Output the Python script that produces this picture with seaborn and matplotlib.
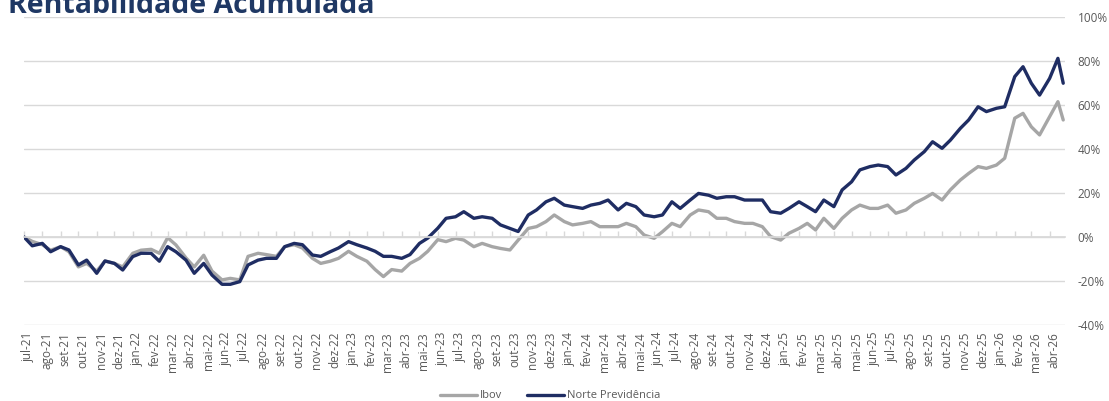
import numpy as np
import pandas as pd
import matplotlib
matplotlib.use("Agg")
import matplotlib.pyplot as plt
import matplotlib.transforms as mtransforms
import seaborn as sns

# ---- data (cumulative return, %), semi-monthly samples ----
start_date = "2021-07-01"
last_regular = "2026-04-15"
final_date = "2026-04-24"

norte = [
    0, -4, -2.9, -6.7, -4.4, -5.9, -12.7, -10.5, -16.5, -10.9, -12, -15, -8.9, -7.4, -7.4, -11,
    -4.4, -6.7, -10.5, -16.5, -12, -17.3, -21.5,
    -21.5, -20.3, -12.7, -10.5, -9.7, -9.7, -4.4, -2.9, -3.5, -8.2, -8.8, -6.7, -5, -2.1, -3.5, -5,
    -6.5, -8.8, -8.8, -9.7, -8, -2.9, -0.5, 4,
    8.5, 9.2, 11.5, 8.5, 9.2, 8.5, 5.5, 3.9, 2.5, 10, 12.3, 16, 17.6, 14.5, 13.8, 13, 14.5, 15.3,
    16.8, 12.3, 15.3, 13.8, 10,
    9.2, 10, 16, 13, 16.8, 19.8, 19, 17.6, 18.3, 18.3, 16.8, 16.8, 16.8, 11.5, 10.8, 13, 16, 13.8,
    11.5, 16.8, 13.8, 21.4, 25.1,
    30.5, 32, 32.7, 32, 28.2, 31.2, 35, 38.8, 43.3, 40.3, 44, 49.4, 53.2, 59.2, 57, 58.5, 59.2, 72.9,
    77.4, 69.9, 64.5, 72.1, 81.2, 69.9,
]
ibov = [
    0, -2, -3.5, -6, -4.4, -6.7, -13.6, -12, -15.5, -10.9, -12, -13.6, -7.4, -6, -5.6, -7.4,
    -0.3, -3.6, -9.5, -13.6, -8.3, -15.5, -19.5,
    -18.8, -19.5, -8.8, -7.4, -8, -8.8, -4.4, -3.5, -5, -9.7, -12, -11, -9.7, -6.5, -8.8, -11,
    -14.8, -18, -14.8, -15.5, -12, -9.7, -6.5, -1.2,
    -2.1, -0.6, -1.4, -4.4, -2.9, -4.4, -5.2, -5.9, -1.4, 3.9, 4.7, 7, 10, 7, 5.5, 6.2, 7, 4.7,
    4.7, 4.7, 6.2, 4.7, 0.9,
    -0.6, 2.4, 6.2, 4.7, 10, 12.3, 11.5, 8.5, 8.5, 7, 6.2, 6.2, 4.7, 0.2, -1.4, 1.7, 3.9, 6.2,
    3.2, 8.5, 3.9, 8.5, 12.3,
    14.5, 13, 13, 14.5, 10.8, 12.3, 15.3, 17.6, 19.8, 16.8, 21.4, 25.9, 28.9, 32, 31.2, 32.7, 35.8,
    54, 56.2, 50.1, 46.4, 54.7, 61.5, 53.2,
]
series_names = ["Ibov", "Norte Previdência"]
month_abbr = ["jan", "fev", "mar", "abr", "mai", "jun", "jul", "ago", "set", "out", "nov", "dez"]
yticks = [-40, -20, 0, 20, 40, 60, 80, 100]
title = "Rentabilidade Acumulada"

dates = list(pd.date_range(start_date, last_regular, freq="SMS")) + [pd.Timestamp(final_date)]
df = pd.DataFrame({
    "date": dates * 2,
    "value": ibov + norte,
    "serie": [series_names[0]] * len(ibov) + [series_names[1]] * len(norte),
})

# ---- style ----
sns.set_theme(style="white")
plt.rcParams["font.family"] = ["Open Sans", "DejaVu Sans"]
label_color = "#595959"
grid_color = "#D9D9D9"
colors = {"Ibov": "#A6A6A6", "Norte Previdência": "#1F2D63"}

fig = plt.figure(figsize=(11.09, 4.01), dpi=100)
ax = fig.add_axes([24 / 1109, 1 - 325 / 401, (1065 - 24) / 1109, (325 - 17) / 401])

sns.lineplot(data=df, x="date", y="value", hue="serie", palette=colors,
             hue_order=series_names, linewidth=2.4, ax=ax, legend=True, estimator=None)

ax.set_ylim(-40, 100)
ax.set_xlim(pd.Timestamp(start_date), pd.Timestamp("2026-04-27"))
ax.set_yticks(yticks)
ax.yaxis.tick_right()
ax.set_yticklabels([f"{v}%" for v in yticks], color=label_color, fontsize=8.5)
ax.tick_params(axis="y", length=0, pad=9)
ax.grid(axis="y", color=grid_color, linewidth=1)
ax.set_axisbelow(True)
for s in ax.spines.values():
    s.set_visible(False)

# month positions
month_starts = pd.date_range(start_date, "2026-04-01", freq="MS")
month_labels = [f"{month_abbr[d.month - 1]}-{d.year % 100:02d}" for d in month_starts]

# axis line with tick marks at 0
ax.spines["bottom"].set_visible(True)
ax.spines["bottom"].set_position(("data", 0))
ax.spines["bottom"].set_color(grid_color)
ax.set_xticks(month_starts)
ax.set_xticklabels([])
ax.tick_params(axis="x", direction="in", length=4, color=grid_color, width=1, bottom=True)

sec = ax.secondary_xaxis(0.0)
sec.set_xticks(month_starts)
sec.set_xticklabels(month_labels, rotation=90, color=label_color, fontsize=8.5)
sec.tick_params(axis="x", length=0, pad=5)
for s in sec.spines.values():
    s.set_visible(False)
shift = mtransforms.ScaledTranslation(4.5 / 100, 0, fig.dpi_scale_trans)
for lab in sec.get_xticklabels():
    lab.set_transform(lab.get_transform() + shift)

ax.set_xlabel("")
ax.set_ylabel("")

# legend
handles, labels = ax.get_legend_handles_labels()
ax.legend_.remove()
fig.legend(handles, labels, loc="center", bbox_to_anchor=(0.496, 5 / 401), ncol=2,
           frameon=False, fontsize=8, handlelength=3.4, columnspacing=2.2,
           handletextpad=0.25, labelcolor=label_color)

fig.text(8 / 1109, 1 - 13 / 401, title, fontsize=20.5, fontweight="bold", color="#1F3864",
         va="baseline", ha="left")

fig.savefig("out.png", dpi=100)
